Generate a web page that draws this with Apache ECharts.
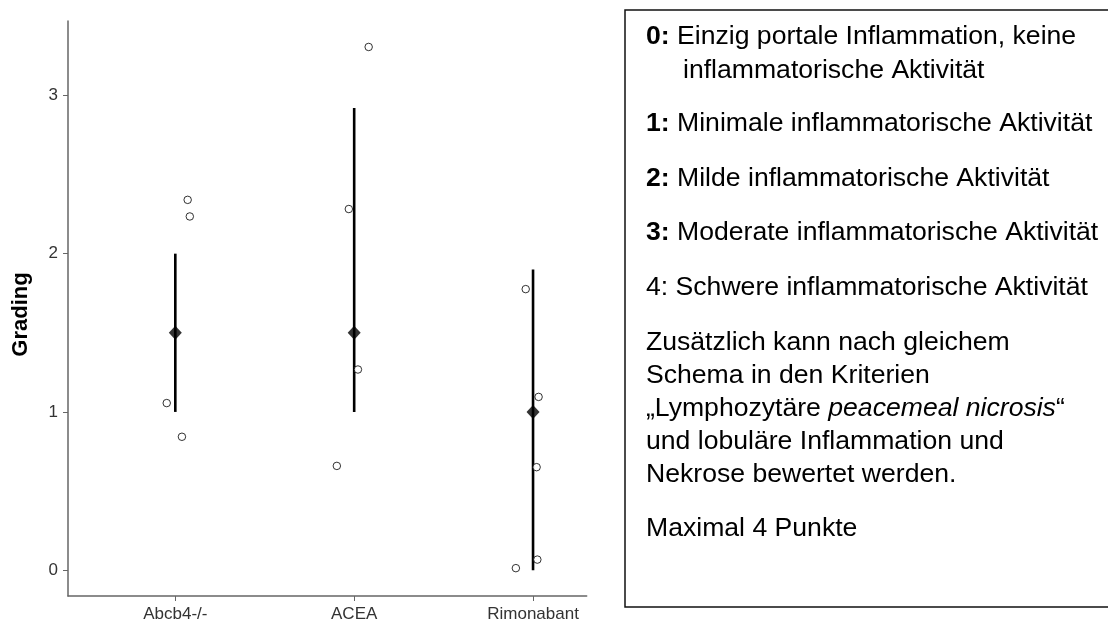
<!DOCTYPE html>
<html>
<head>
<meta charset="utf-8">
<script src="https://cdn.jsdelivr.net/npm/echarts@6/dist/echarts.min.js"></script>
<style>
  html, body { margin: 0; padding: 0; background: #ffffff; }
  #chart { width: 1108px; height: 623px; }
</style>
</head>
<body>
<div id="chart"></div>
<script>
// Groups and their positions on the horizontal value axis
const categories = ['Abcb4-/-', 'ACEA', 'Rimonabant'];
const categoryPositions = [1, 2, 3];

// Group summary: mean (diamond) and the extent of the vertical bar
const meanValues = [1.5, 1.5, 1.0];
const lowerValues = [1.0, 1.0, 0.0];
const upperValues = [2.0, 2.92, 1.9];

// Y axis ticks
const yTicks = [0, 1, 2, 3];

// Individual scores, horizontally jittered around their group
const abcbX = [1.069, 1.081, 0.952, 1.037];
const abcbY = [2.34, 2.235, 1.056, 0.843];
const aceaX = [2.081, 1.970, 2.021, 1.903];
const aceaY = [3.306, 2.282, 1.268, 0.659];
const rimX = [2.959, 3.031, 3.020, 3.024, 2.904];
const rimY = [1.776, 1.095, 0.651, 0.067, 0.013];

// Grading scale explanation
const scaleKeys = ['0:', '1:', '2:', '3:', '4:'];
const scaleKeyBold = [true, true, true, true, false];
const scaleTexts = [
  'Einzig portale Inflammation, keine',
  'Minimale inflammatorische Aktivität',
  'Milde inflammatorische Aktivität',
  'Moderate inflammatorische Aktivität',
  'Schwere inflammatorische Aktivität'
];
const scaleContinuation = 'inflammatorische Aktivität';
const noteLines = [
  'Zusätzlich kann nach gleichem',
  'Schema in den Kriterien',
  '„Lymphozytäre {i|peacemeal nicrosis}“',
  'und lobuläre Inflammation und',
  'Nekrose bewertet werden.'
];
const maxLine = 'Maximal 4 Punkte';

const FONT = '"Liberation Sans", Arial, Helvetica, sans-serif';

function pairs(xs, ys) {
  return xs.map((x, i) => [x, ys[i]]);
}
const individualPoints = [].concat(pairs(abcbX, abcbY), pairs(aceaX, aceaY), pairs(rimX, rimY));
const meanPoints = categoryPositions.map((x, i) => [x, meanValues[i]]);
const barData = categoryPositions.map((x, i) => [x, lowerValues[i], upperValues[i]]);

// Text block on the right
const textFontSize = 26.6;
const textLeft = 646;
const scaleLineY = [37, 124, 179, 233, 288];
const continuationY = 71;
const noteTopY = 343;
const noteLineStep = 32.8;
const maxLineY = 529;

const richStyles = {
  b: { fontWeight: 'bold', fontSize: textFontSize, fontFamily: FONT, fill: '#000' },
  r: { fontWeight: 'normal', fontSize: textFontSize, fontFamily: FONT, fill: '#000' },
  i: { fontStyle: 'italic', fontSize: textFontSize, fontFamily: FONT, fill: '#000' }
};

function textLine(str, x, y) {
  return {
    type: 'text',
    x: x,
    y: y,
    style: {
      text: str,
      rich: richStyles,
      fontSize: textFontSize,
      fontFamily: FONT,
      fill: '#000',
      verticalAlign: 'middle',
      align: 'left'
    },
    z: 10
  };
}

const textElements = [];
scaleKeys.forEach((k, i) => {
  const key = scaleKeyBold[i] ? '{b|' + k + '}' : '{r|' + k + '}';
  textElements.push(textLine(key + '{r| ' + scaleTexts[i] + '}', textLeft, scaleLineY[i]));
});
textElements.push(textLine('{r|' + scaleContinuation + '}', 683, continuationY));
noteLines.forEach((t, i) => {
  const s = t.indexOf('{i|') >= 0
    ? t.replace(/^(.*?)\{i\|(.*?)\}(.*)$/, '{r|$1}{i|$2}{r|$3}')
    : '{r|' + t + '}';
  textElements.push(textLine(s, textLeft, noteTopY + i * noteLineStep));
});
textElements.push(textLine('{r|' + maxLine + '}', textLeft, maxLineY));

const chart = echarts.init(document.getElementById('chart'), null, { renderer: 'canvas' });

chart.setOption({
  animation: false,
  backgroundColor: '#ffffff',
  grid: { left: 68, right: 521.3, top: 21, bottom: 27, containLabel: false },
  xAxis: {
    type: 'value',
    min: 0.4,
    max: 3.3,
    splitLine: { show: false },
    axisLine: { show: true, onZero: false, lineStyle: { color: '#666666', width: 1.5 } },
    axisTick: { show: true, length: 5, customValues: categoryPositions, lineStyle: { color: '#666666', width: 1 } },
    axisLabel: {
      customValues: categoryPositions,
      formatter: v => categories[categoryPositions.indexOf(Math.round(v))] || '',
      color: '#333333',
      fontSize: 17,
      fontFamily: FONT,
      margin: 10
    }
  },
  yAxis: {
    type: 'value',
    min: -0.163,
    max: 3.47,
    name: 'Grading',
    nameLocation: 'middle',
    nameGap: 36,
    nameRotate: 90,
    nameTextStyle: { fontSize: 22, fontWeight: 'bold', fontFamily: FONT, color: '#000000', padding: [0, 12, 0, 0] },
    splitLine: { show: false },
    axisLine: { show: true, onZero: false, lineStyle: { color: '#666666', width: 1.5 } },
    axisTick: { show: true, length: 5, customValues: yTicks, lineStyle: { color: '#666666', width: 1 } },
    axisLabel: {
      customValues: yTicks,
      color: '#333333',
      fontSize: 17,
      fontFamily: FONT,
      margin: 10
    }
  },
  series: [
    {
      name: 'Bereich',
      type: 'custom',
      data: barData,
      encode: { x: 0, y: [1, 2] },
      renderItem: function (params, api) {
        const x = api.value(0);
        const p1 = api.coord([x, api.value(1)]);
        const p2 = api.coord([x, api.value(2)]);
        return {
          type: 'line',
          shape: { x1: p1[0], y1: p1[1], x2: p2[0], y2: p2[1] },
          style: { stroke: '#000000', lineWidth: 2.6 }
        };
      },
      z: 2
    },
    {
      name: 'Einzelwerte',
      type: 'scatter',
      data: individualPoints,
      symbol: 'circle',
      symbolSize: 7.5,
      itemStyle: { color: '#ffffff', borderColor: '#000000', borderWidth: 1 },
      z: 3
    },
    {
      name: 'Mittelwert',
      type: 'scatter',
      data: meanPoints,
      symbol: 'diamond',
      symbolSize: [13, 14],
      itemStyle: { color: '#000000' },
      z: 4
    }
  ],
  graphic: [
    {
      type: 'rect',
      shape: { x: 625, y: 10, width: 520, height: 597 },
      style: { fill: '#ffffff', stroke: '#111111', lineWidth: 1.5 },
      z: 5
    }
  ].concat(textElements)
});
</script>
</body>
</html>
